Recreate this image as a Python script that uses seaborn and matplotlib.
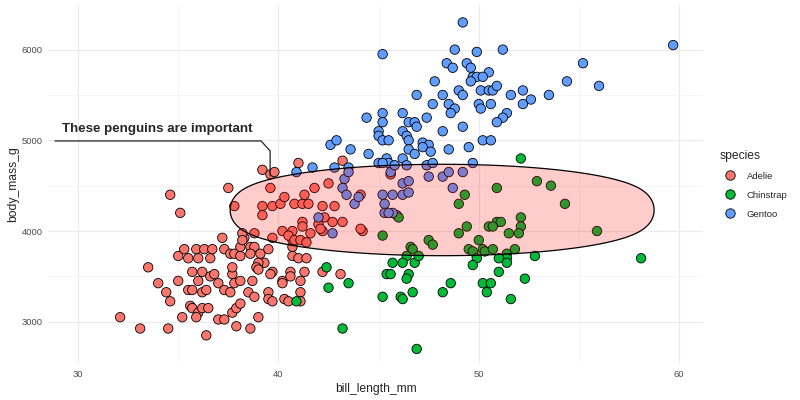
import numpy as np
import pandas as pd
import matplotlib
matplotlib.use("Agg")
import matplotlib.pyplot as plt
import seaborn as sns

# Data (bill length mm, body mass g)
species_order = ["Adelie", "Chinstrap", "Gentoo"]
species_colors = ["#F8766D", "#00BA38", "#619CFF"]

adelie = [
    (33.5, 3600), (32.1, 3050), (33.1, 2925), (34.5, 2925), (34.0, 3425), (34.4, 3325),
    (34.6, 3225), (35.0, 3450), (35.2, 3050), (35.0, 3725), (35.3, 3800), (35.5, 3700),
    (35.9, 3800), (36.0, 3700), (36.3, 3800), (36.6, 3700), (36.7, 3800), (35.7, 3550),
    (36.2, 3550), (36.0, 3450), (35.5, 3350), (35.7, 3350), (36.2, 3325), (36.4, 3350),
    (35.6, 3175), (35.7, 3150), (36.0, 3100), (36.2, 3150), (36.5, 3150), (35.9, 3050),
    (36.4, 2850), (36.6, 3500), (36.8, 3525), (37.0, 3425), (37.3, 3350), (37.6, 3325),
    (37.0, 3025), (37.3, 3025), (37.7, 3100), (37.9, 3150), (38.1, 3200), (37.9, 2950),
    (38.6, 2925), (39.0, 3050), (37.7, 3525), (37.8, 3425), (38.1, 3450), (37.7, 3600),
    (37.3, 3800), (37.6, 3750), (37.8, 3750), (38.1, 3725), (38.1, 3825), (38.3, 3925),
    (37.2, 3925), (38.6, 3825), (38.8, 3825), (38.6, 3750), (39.1, 3750), (39.3, 3650),
    (39.0, 3650), (38.9, 3600), (39.0, 3575), (39.7, 3550), (39.6, 3525), (38.7, 3450),
    (38.5, 3325), (38.8, 3275), (39.5, 3325), (39.5, 3250), (39.7, 3225), (39.5, 3800),
    (39.7, 3925), (40.2, 3450), (40.2, 3425), (40.3, 3250), (40.5, 3225), (40.6, 3550),
    (40.6, 3500), (40.7, 3725), (40.7, 3825), (41.0, 3700), (41.4, 3700), (41.3, 3550),
    (41.1, 3450), (41.1, 3325), (41.1, 3225), (42.2, 3550), (43.1, 3525), (38.8, 3975),
    (38.2, 3975), (38.2, 3900),
    (35.1, 4200), (37.8, 4275), (39.2, 4275), (39.2, 4175), (39.7, 4275), (40.1, 4300),
    (40.8, 4300), (41.2, 4300), (41.5, 4300), (42.2, 4275), (42.8, 4275), (41.2, 4100),
    (41.2, 4050), (42.0, 4075), (42.2, 4000), (42.3, 4150), (42.7, 4100), (43.2, 4100),
    (44.2, 4000), (40.2, 4000), (40.7, 4000), (40.7, 3900), (40.5, 3950), (40.8, 3900),
    (41.1, 3900), (41.4, 3875), (41.6, 3975), (37.5, 4475), (39.2, 4675), (39.6, 4625),
    (39.8, 4650), (41.0, 4750), (43.2, 4775), (39.6, 4475), (40.3, 4375), (41.3, 4400),
    (41.8, 4475), (42.5, 4525), (44.1, 4400), (44.1, 4025), (45.9, 4175), (45.6, 4625),
    (34.6, 4400), (42.1, 4025),
]

chinstrap = [
    (40.9, 3225), (42.4, 3600), (42.5, 3375), (43.5, 3425), (43.2, 2925), (45.2, 3275),
    (45.2, 3950), (45.7, 3650), (45.4, 3525), (45.6, 3525), (46.1, 3275), (46.0, 4150),
    (46.6, 3825), (52.1, 4800), (52.9, 4550), (53.6, 4500), (50.9, 4475), (49.3, 4400),
    (49.0, 4300), (54.3, 4300), (55.9, 4000), (52.1, 4150), (52.1, 4050), (50.9, 4100),
    (51.1, 4100), (50.5, 4050), (50.7, 4050), (49.4, 4050), (49.0, 3975), (51.5, 3975),
    (52.0, 3975), (50.0, 3900), (47.5, 3900), (47.7, 3850), (46.7, 3800), (49.5, 3800),
    (49.7, 3775), (50.2, 3800), (50.3, 3775), (50.7, 3800), (51.4, 3750), (51.8, 3800),
    (52.8, 3725), (51.4, 3700), (51.4, 3650), (51.0, 3700), (49.9, 3700), (49.7, 3625),
    (51.0, 3550), (52.3, 3475), (46.4, 3725), (46.2, 3650), (46.8, 3650), (47.0, 3725),
    (46.5, 3525), (46.4, 3475), (58.1, 3700), (50.2, 3425), (50.6, 3425), (50.4, 3325),
    (48.6, 3425), (48.2, 3325), (51.6, 3250), (46.7, 3325), (46.2, 3250), (46.9, 2700),
]

gentoo = [
    (49.2, 6300), (45.2, 5950), (48.8, 6000), (49.9, 5975), (51.2, 6000), (48.4, 5850),
    (48.7, 5800), (49.4, 5850), (49.6, 5800), (50.5, 5750), (49.7, 5700), (49.9, 5700),
    (50.2, 5700), (49.6, 5650), (47.8, 5650), (46.9, 5500), (48.2, 5500), (49.0, 5550),
    (49.2, 5500), (50.1, 5550), (50.5, 5550), (50.7, 5550), (50.9, 5600), (51.6, 5500),
    (52.2, 5550), (52.6, 5450), (52.2, 5400), (53.5, 5500), (54.4, 5650), (55.2, 5850),
    (56.0, 5600), (59.7, 6050), (47.7, 5400), (48.5, 5400), (48.8, 5350), (48.6, 5300),
    (50.0, 5400), (50.1, 5350), (50.6, 5400), (45.2, 5300), (46.2, 5300), (44.4, 5250),
    (45.2, 5200), (46.5, 5200), (46.8, 5200), (46.9, 5150), (47.4, 5250), (49.2, 5150),
    (51.4, 5300), (51.2, 5250), (50.9, 5200), (45.0, 5100), (45.0, 5050), (45.2, 5000),
    (45.5, 5000), (46.2, 5100), (46.4, 5050), (46.5, 5000), (47.2, 4975), (47.5, 4950),
    (48.2, 5100), (50.2, 5000), (50.6, 5000), (42.6, 4950), (42.9, 5000), (43.6, 4900),
    (49.5, 4925), (46.5, 4900), (47.2, 4925), (48.5, 4900), (44.5, 4850), (45.0, 4750),
    (45.4, 4800), (45.5, 4750), (40.9, 4650), (41.7, 4700), (42.8, 4700), (43.5, 4700),
    (45.2, 4750), (46.2, 4800), (46.8, 4850), (47.6, 4875), (47.4, 4725), (47.7, 4750),
    (49.7, 4750),
    (43.3, 4575), (43.5, 4650), (43.2, 4475), (43.4, 4400), (43.8, 4300), (44.0, 4375),
    (42.0, 4150), (42.7, 3975), (45.2, 4400), (45.3, 4300), (45.3, 4200), (45.7, 4400),
    (45.6, 4650), (46.2, 4400), (46.2, 4525), (46.5, 4550), (46.5, 4425), (45.7, 4200),
    (45.5, 4200), (45.8, 4725), (46.4, 4725), (47.5, 4600), (48.2, 4600), (48.5, 4650),
    (49.2, 4650), (48.7, 4475),
]

x_ticks = [30, 40, 50, 60]
y_ticks = [3000, 4000, 5000, 6000]
x_minor = [35, 45, 55]
y_minor = [3500, 4500, 5500]

# highlighted group: centre in data units, size in pixels (ggforce-style padded ellipse)
mark_center = (48.17, 4232)
mark_label = "These penguins are important"
label_anchor = (28.85, 4993)

rows = []
for name, pts in zip(species_order, [adelie, chinstrap, gentoo]):
    for bill, mass in pts:
        rows.append({"species": name, "bill_length_mm": bill, "body_mass_g": mass})
df = pd.DataFrame(rows)

sns.set_theme(style="white")
plt.rcParams["font.family"] = ["Liberation Sans", "DejaVu Sans"]

fig = plt.figure(figsize=(8, 4), dpi=100)
ax = fig.add_axes([0.06, 0.0925, 0.819, 0.895])

sns.scatterplot(data=df, x="bill_length_mm", y="body_mass_g", hue="species",
                hue_order=species_order, palette=species_colors, s=46,
                edgecolor="black", linewidth=0.6, ax=ax, zorder=3)

ax.set_xlim(28.5, 61.2)
ax.set_ylim(2545, 6492)
ax.set_xticks(x_ticks)
ax.set_yticks(y_ticks)
ax.set_xticks(x_minor, minor=True)
ax.set_yticks(y_minor, minor=True)
ax.grid(which="major", color="#EBEBEB", linewidth=0.9)
ax.grid(which="minor", color="#F2F2F2", linewidth=0.5)
ax.set_axisbelow(True)
for sp in ax.spines.values():
    sp.set_visible(False)
ax.tick_params(which="both", length=0, labelsize=6.8, labelcolor="#4D4D4D")
ax.tick_params(axis="x", pad=5)
ax.tick_params(axis="y", pad=4)
ax.set_xlabel("bill_length_mm", fontsize=8.7, labelpad=3)
ax.set_ylabel("body_mass_g", fontsize=8.7, labelpad=2)

# padded ellipse, built in pixel space then mapped back to data
cx, cy = ax.transData.transform(mark_center)
half_w, half_h, pad = 212, 45.7, 16
a, b = half_w - pad, half_h - pad
t = np.linspace(0, 2 * np.pi, 500)
nx, ny = np.cos(t) / a, np.sin(t) / b
nn = np.hypot(nx, ny)
px = cx + a * np.cos(t) + pad * nx / nn
py = cy + b * np.sin(t) + pad * ny / nn
poly = ax.transData.inverted().transform(np.column_stack([px, py]))
ax.fill(poly[:, 0], poly[:, 1], facecolor=(1, 0, 0, 0.2), edgecolor="black",
        linewidth=0.9, zorder=4)

# label connector: horizontal, short diagonal, then down to the ellipse edge
lx, ly = ax.transData.transform(label_anchor)
bend_x = cx - 172
conn_px = np.array([[lx, ly], [bend_x - 9, ly], [bend_x, ly - 10], [bend_x, cy + 34]])
conn = ax.transData.inverted().transform(conn_px)
ax.plot(conn[:, 0], conn[:, 1], color="#222222", linewidth=0.9, zorder=5)
tx, ty = ax.transData.inverted().transform((lx + 7, ly + 9))
ax.text(tx, ty, mark_label, fontsize=9.6, fontweight="bold", ha="left",
        va="baseline", zorder=6)

sns.move_legend(ax, "upper left", bbox_to_anchor=(1.02, 0.606), frameon=False,
                title="species", fontsize=6.8, title_fontsize=8.7,
                handletextpad=0.8, labelspacing=1.05, borderaxespad=0)
leg = ax.get_legend()
leg._legend_box.align = "left"

fig.savefig("out.png", dpi=100)
